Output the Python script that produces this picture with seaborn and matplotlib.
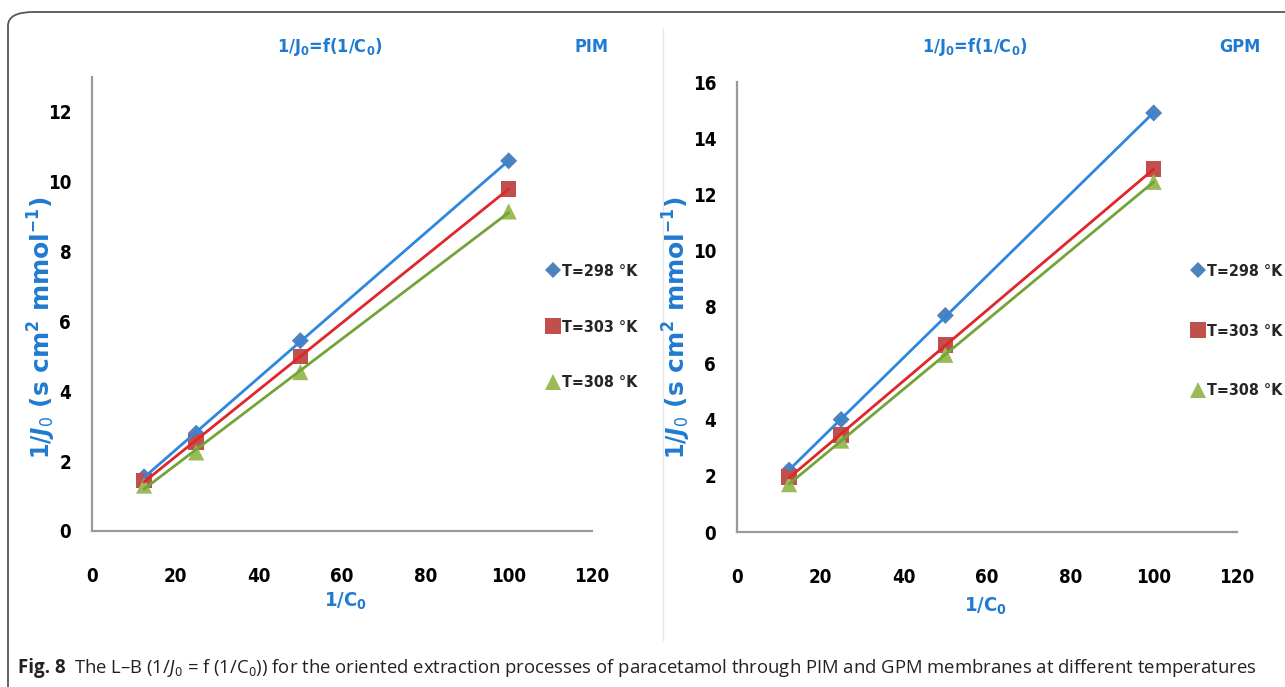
import numpy as np
import pandas as pd
import matplotlib
matplotlib.use("Agg")
import matplotlib.pyplot as plt
import seaborn as sns
from matplotlib import font_manager
from matplotlib.patches import FancyBboxPatch
from matplotlib.lines import Line2D

# ---------------- data ----------------
inv_c0 = [12.5, 25, 50, 100]
temps = ["T=298 °K", "T=303 °K", "T=308 °K"]
pim_298 = [1.55, 2.8, 5.45, 10.6]
pim_303 = [1.45, 2.55, 5.0, 9.8]
pim_308 = [1.3, 2.25, 4.55, 9.15]
gpm_298 = [2.2, 4.0, 7.7, 14.9]
gpm_303 = [1.95, 3.45, 6.65, 12.9]
gpm_308 = [1.7, 3.25, 6.3, 12.45]
pim_yticks = [0, 2, 4, 6, 8, 10, 12]
gpm_yticks = [0, 2, 4, 6, 8, 10, 12, 14, 16]
xticks = [0, 20, 40, 60, 80, 100, 120]


def long_df(series):
    rows = []
    for t, vals in zip(temps, series):
        for x, y in zip(inv_c0, vals):
            rows.append({"x": x, "y": y, "T": t})
    return pd.DataFrame(rows)


pim = long_df([pim_298, pim_303, pim_308])
gpm = long_df([gpm_298, gpm_303, gpm_308])

# ---------------- style ----------------
sns.set_theme(style="white")
avail = {f.name for f in font_manager.fontManager.ttflist}
has_cond = any(f.name == "DejaVu Sans" and "Condensed" in f.fname
               for f in font_manager.fontManager.ttflist)
if "Liberation Sans Narrow" in avail:
    narrow = "Liberation Sans Narrow"
    stretch = "normal"
elif has_cond:
    narrow = "DejaVu Sans"
    stretch = "condensed"
else:
    narrow = "Liberation Sans"
    stretch = "normal"
plt.rcParams["font.family"] = [narrow, "DejaVu Sans"]
plt.rcParams["font.stretch"] = stretch
plt.rcParams["mathtext.fontset"] = "custom"
plt.rcParams["mathtext.rm"] = f"{narrow}"
plt.rcParams["mathtext.bf"] = f"{narrow}:bold"
plt.rcParams["mathtext.it"] = "DejaVu Sans:italic:bold"
plt.rcParams["mathtext.sf"] = "DejaVu Sans:italic"

marker_colors = ["#4F81BD", "#C0504D", "#9BBB59"]
line_colors = ["#2E86DE", "#E0262A", "#74A33A"]
markers = ["D", "s", "^"]
msizes = [75, 125, 135]
blue = "#1F7BD1"

W, H = 1285, 687
fig = plt.figure(figsize=(W / 100, H / 100), dpi=100)


def fx(px):
    return px / W


def fy(py):
    return 1 - py / H


def make_panel(df, x0, x1, y0px, ytop_px, ymax, yticks, title_x, tag, tag_x,
               ylab_x, xlab_x, xlab_y, leg_x, leg_y, leg_sp):
    ax = fig.add_axes([fx(x0), fy(y0px), fx(x1) - fx(x0), fy(ytop_px) - fy(y0px)])
    for i, t in enumerate(temps):
        sub = df[df["T"] == t]
        sns.scatterplot(data=sub, x="x", y="y", ax=ax, marker=markers[i],
                        color=marker_colors[i], s=msizes[i], edgecolor="none",
                        zorder=2, legend=False)
    for i, t in enumerate(temps):
        sub = df[df["T"] == t]
        sns.regplot(data=sub, x="x", y="y", ax=ax, scatter=False, ci=None,
                    truncate=True, color=line_colors[i],
                    line_kws={"lw": 2.0, "zorder": 3})
    ax.set_xlim(0, 120)
    ax.set_ylim(0, ymax)
    ax.set_xticks(xticks)
    ax.set_yticks(yticks)
    ax.set_xlabel("")
    ax.set_ylabel("")
    for s in ["top", "right"]:
        ax.spines[s].set_visible(False)
    for s in ["left", "bottom"]:
        ax.spines[s].set_color("#9a9a9a")
        ax.spines[s].set_linewidth(1.6)
    ax.tick_params(axis="both", direction="out", length=6, width=1.3,
                   color="#9a9a9a", labelsize=13.5, labelcolor="black")
    ax.tick_params(axis="x", pad=20)
    ax.tick_params(axis="y", pad=9)
    for lab in ax.get_xticklabels() + ax.get_yticklabels():
        lab.set_fontweight("bold")
    ax.patch.set_alpha(0)

    fig.text(fx(title_x), fy(47), r"1/J$_\mathbf{0}$=f(1/C$_\mathbf{0}$)", color=blue,
             fontsize=13, fontweight="bold", ha="center", va="center")
    fig.text(fx(tag_x), fy(47), tag, color=blue, fontsize=13, fontweight="bold",
             ha="center", va="center")
    fig.text(fx(ylab_x), fy(328),
             r"$\mathbf{1/}J_0$ (s cm$^\mathbf{2}$ mmol$^\mathbf{-1}$)",
             color=blue, fontsize=18, fontweight="bold", rotation=90,
             ha="center", va="center", family=["DejaVu Sans"], stretch="normal")
    fig.text(fx(xlab_x), fy(xlab_y), r"1/C$_\mathbf{0}$", color=blue, fontsize=14.5,
             fontweight="bold", ha="center", va="center")

    handles = [Line2D([], [], ls="none", marker=markers[i], color=marker_colors[i],
                      markersize=[8, 11, 11][i], markeredgewidth=0)
               for i in range(3)]
    leg = fig.legend(handles, temps, loc="center left",
                     bbox_to_anchor=(fx(leg_x), fy(leg_y)), frameon=False,
                     fontsize=11.5, labelspacing=leg_sp, handlelength=0.7,
                     handletextpad=0.25, borderpad=0, borderaxespad=0)
    for txt in leg.get_texts():
        txt.set_fontweight("bold")
    return ax


make_panel(pim, 92, 592, 531, 77, 13, pim_yticks, 330, "PIM", 592,
           42, 345, 601, 547, 327, 2.55)
make_panel(gpm, 737, 1237, 532, 82, 16, gpm_yticks, 975, "GPM", 1240,
           677, 985, 606, 1192, 331, 2.8)

# outer rounded frame (clipped at right/bottom like the source)
box = FancyBboxPatch((fx(8), fy(720)), fx(1320) - fx(8), fy(12) - fy(720),
                     boxstyle="round,pad=0,rounding_size=0.02",
                     transform=fig.transFigure, facecolor="none",
                     edgecolor="#555555", linewidth=1.3, zorder=0)
fig.patches.append(box)
# faint separator between panels
fig.add_artist(Line2D([fx(663), fx(663)], [fy(28), fy(640)], color="#e6e6e6",
                      lw=1.0, transform=fig.transFigure))

# caption
cap_fam = ["Open Sans", "DejaVu Sans"]
t1 = fig.text(fx(18), fy(668), "Fig. 8", fontsize=13.5, fontweight="bold",
              ha="left", va="center", color="#222222", family=cap_fam,
              stretch="normal")
fig.canvas.draw()
bb = t1.get_window_extent()
fig.text(bb.x1 / W + fx(8), fy(668),
         r"The L–B (1/$\mathsf{J}_\mathrm{0}$ = f (1/C$_\mathrm{0}$)) for the oriented extraction "
         "processes of paracetamol through PIM and GPM membranes at different temperatures",
         fontsize=13.3, ha="left", va="center", color="#222222", family=cap_fam,
         stretch="normal")

fig.savefig("out.png", dpi=100)
